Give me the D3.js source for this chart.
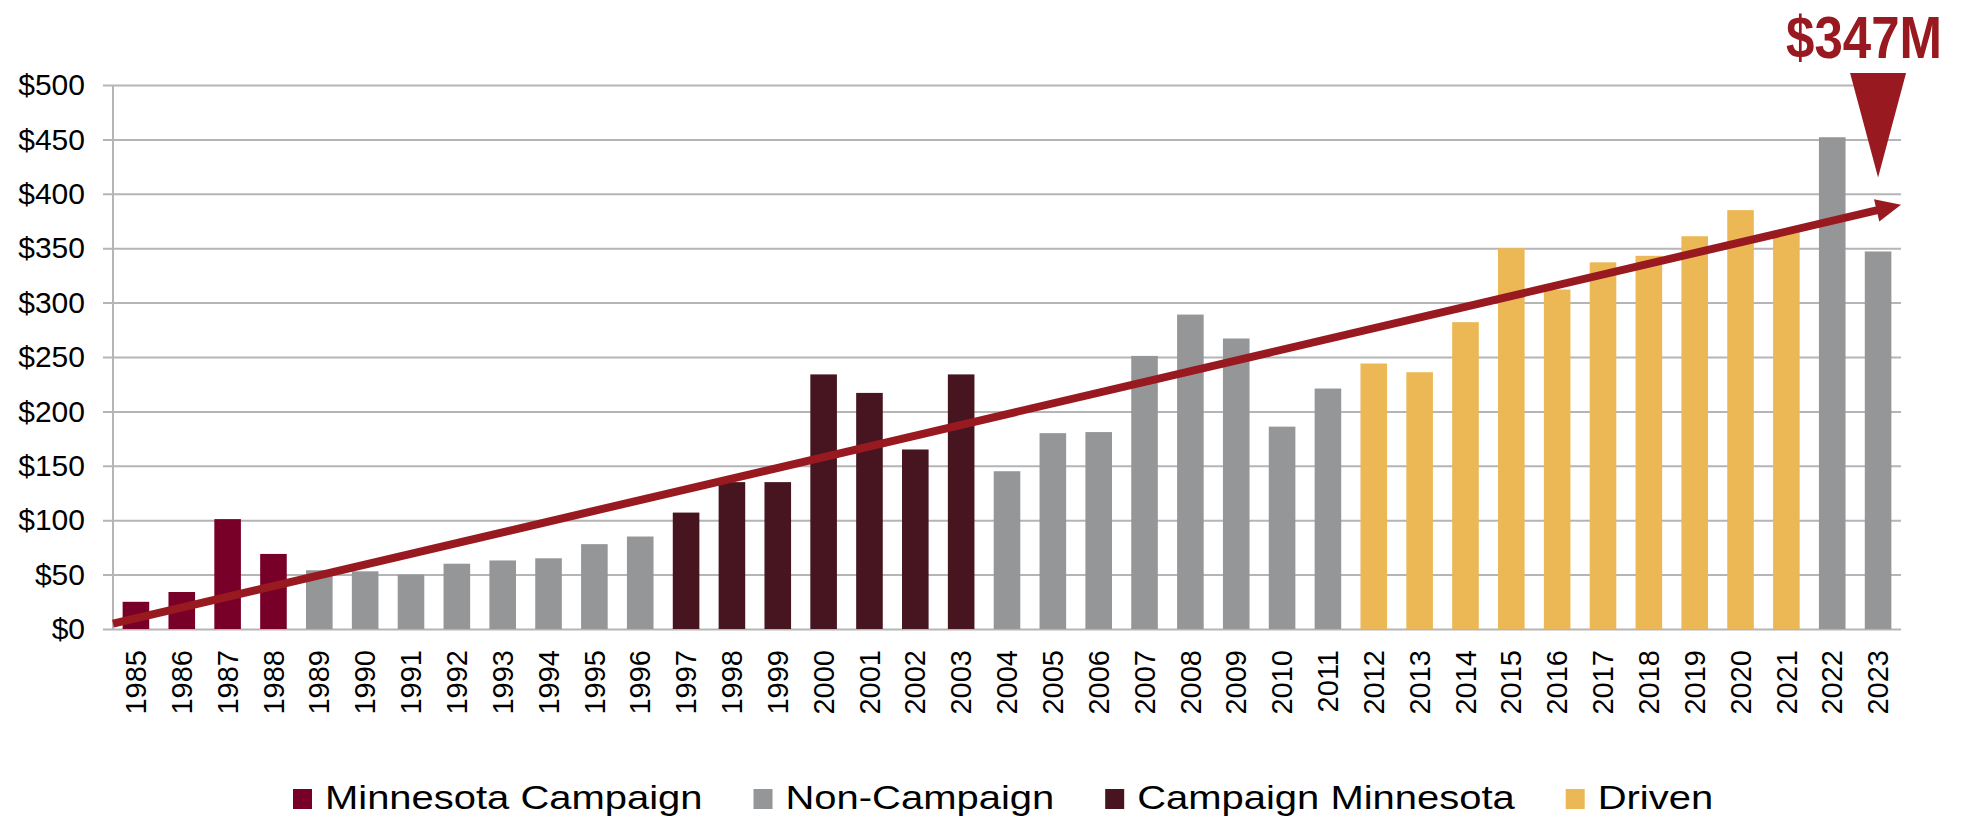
<!DOCTYPE html>
<html>
<head>
    <meta charset="utf-8">
    <script src="https://d3js.org/d3.v7.min.js"></script>
    <style>
        body { margin: 0; background: #fff; }
        text { font-family: "Liberation Sans", Arial, sans-serif; }
    </style>
</head>
<body>
    <div id="chart"></div>
    <script>
        // data ($ millions raised per fiscal year)
        var years = [1985, 1986, 1987, 1988, 1989, 1990, 1991, 1992, 1993, 1994,
                     1995, 1996, 1997, 1998, 1999, 2000, 2001, 2002, 2003, 2004,
                     2005, 2006, 2007, 2008, 2009, 2010, 2011, 2012, 2013, 2014,
                     2015, 2016, 2017, 2018, 2019, 2020, 2021, 2022, 2023];
        var values = [25, 34, 101, 69, 54, 53, 50, 60, 63, 65,
                      78, 85, 107, 135, 135, 234, 217, 165, 234, 145,
                      180, 181, 251, 289, 267, 186, 221, 244, 236, 282,
                      350, 312, 337, 343, 361, 385, 366, 452, 347];
        var groups = ["MC", "MC", "MC", "MC", "NC", "NC", "NC", "NC", "NC", "NC",
                      "NC", "NC", "CM", "CM", "CM", "CM", "CM", "CM", "CM", "NC",
                      "NC", "NC", "NC", "NC", "NC", "NC", "NC", "DR", "DR", "DR",
                      "DR", "DR", "DR", "DR", "DR", "DR", "DR", "NC", "NC"];
        var groupKeys = ["MC", "NC", "CM", "DR"];
        var groupNames = ["Minnesota Campaign", "Non-Campaign", "Campaign Minnesota", "Driven"];
        var yTicks = [0, 50, 100, 150, 200, 250, 300, 350, 400, 450, 500];
        // trend arrow, start and end value at the plot edges
        var trendYears = [1984.5, 2023.5];
        var trendValues = [5, 390];

        var colors = { MC: "#780028", NC: "#959698", CM: "#461520", DR: "#ebb855" };
        var red = "#981a20";

        var W = 1969, H = 823;
        var margin = { top: 85, right: 68, bottom: 194, left: 113 },
            width = W - margin.left - margin.right,
            height = H - margin.top - margin.bottom;

        var svg = d3.select("#chart").append("svg")
            .attr("width", W)
            .attr("height", H);

        var g = svg.append("g")
            .attr("transform", "translate(" + margin.left + "," + margin.top + ")");

        var x = d3.scaleBand()
            .domain(years)
            .range([0, width])
            .paddingInner(0.42)
            .paddingOuter(0.21);

        var xLin = d3.scaleLinear()
            .domain([1984.5, 2023.5])
            .range([0, width]);

        var y = d3.scaleLinear()
            .domain([0, 500])
            .range([height, 0]);

        // grid + y axis
        var yAxis = g.append("g")
            .call(d3.axisLeft(y).tickValues(yTicks).tickSize(10).tickPadding(18)
                .tickFormat(function (d) { return "$" + d; }));
        yAxis.select(".domain").remove();
        yAxis.selectAll(".tick line").remove();
        yAxis.selectAll(".tick text")
            .attr("font-size", 30)
            .attr("fill", "#000");
        yAxis.selectAll(".tick")
            .append("line")
            .attr("x1", -10)
            .attr("x2", width)
            .attr("stroke", "#b5b5b7")
            .attr("stroke-width", 2);

        g.append("line")
            .attr("x1", 0).attr("x2", 0)
            .attr("y1", y(500)).attr("y2", height)
            .attr("stroke", "#b5b5b7")
            .attr("stroke-width", 2);

        // bars
        g.selectAll("rect.bar")
            .data(years)
            .enter()
            .append("rect")
            .attr("class", "bar")
            .attr("x", function (d) { return x(d); })
            .attr("width", x.bandwidth())
            .attr("y", function (d, i) { return y(values[i]); })
            .attr("height", function (d, i) { return height - y(values[i]); })
            .attr("fill", function (d, i) { return colors[groups[i]]; });

        // x labels
        g.selectAll("text.year")
            .data(years)
            .enter()
            .append("text")
            .attr("class", "year")
            .attr("transform", function (d) {
                return "translate(" + (x(d) + x.bandwidth() / 2) + "," + (height + 21) + ") rotate(-90)";
            })
            .attr("text-anchor", "end")
            .attr("dy", "0.35em")
            .attr("font-size", 29)
            .text(function (d) { return d; });

        // trend arrow
        var x0 = xLin(trendYears[0]), y0 = y(trendValues[0]);
        var x1 = xLin(trendYears[1]), y1 = y(trendValues[1]);
        var len = Math.sqrt((x1 - x0) * (x1 - x0) + (y1 - y0) * (y1 - y0));
        var ux = (x1 - x0) / len, uy = (y1 - y0) / len;
        var headLen = 25, headHalf = 11.5;
        var bx = x1 - ux * headLen, by = y1 - uy * headLen;

        g.append("line")
            .attr("x1", x0).attr("y1", y0)
            .attr("x2", bx + ux * 2).attr("y2", by + uy * 2)
            .attr("stroke", red)
            .attr("stroke-width", 8);

        g.append("path")
            .attr("d", "M" + x1 + "," + y1 +
                "L" + (bx - uy * headHalf) + "," + (by + ux * headHalf) +
                "L" + (bx + uy * headHalf) + "," + (by - ux * headHalf) + "Z")
            .attr("fill", red);

        // callout on the latest year
        var last = years.length - 1;
        var cx = x(years[last]) + x.bandwidth() / 2;
        g.append("path")
            .attr("d", "M" + (cx - 28) + "," + y(511) +
                "L" + (cx + 28) + "," + y(511) +
                "L" + cx + "," + y(415) + "Z")
            .attr("fill", red);

        g.append("text")
            .attr("x", cx - 14)
            .attr("y", -27)
            .attr("text-anchor", "middle")
            .attr("font-weight", "bold")
            .attr("font-size", 59)
            .attr("textLength", 156)
            .attr("lengthAdjust", "spacingAndGlyphs")
            .attr("fill", red)
            .text("$" + values[last] + "M");

        // legend (type is stretched sideways in the original)
        var legend = svg.append("g")
            .attr("transform", "translate(293,809)");
        var stretch = 1.23;
        var lx = 0;
        groupKeys.forEach(function (k, i) {
            var item = legend.append("g").attr("transform", "translate(" + lx + ",0)");
            item.append("rect")
                .attr("x", 0).attr("y", -20)
                .attr("width", 19).attr("height", 20)
                .attr("fill", colors[k]);
            var t = item.append("text")
                .attr("transform", "translate(32,0) scale(" + stretch + ",1)")
                .attr("font-size", 32.5)
                .text(groupNames[i]);
            lx += 32 + t.node().getComputedTextLength() * stretch + 51;
        });
    </script>
</body>
</html>
